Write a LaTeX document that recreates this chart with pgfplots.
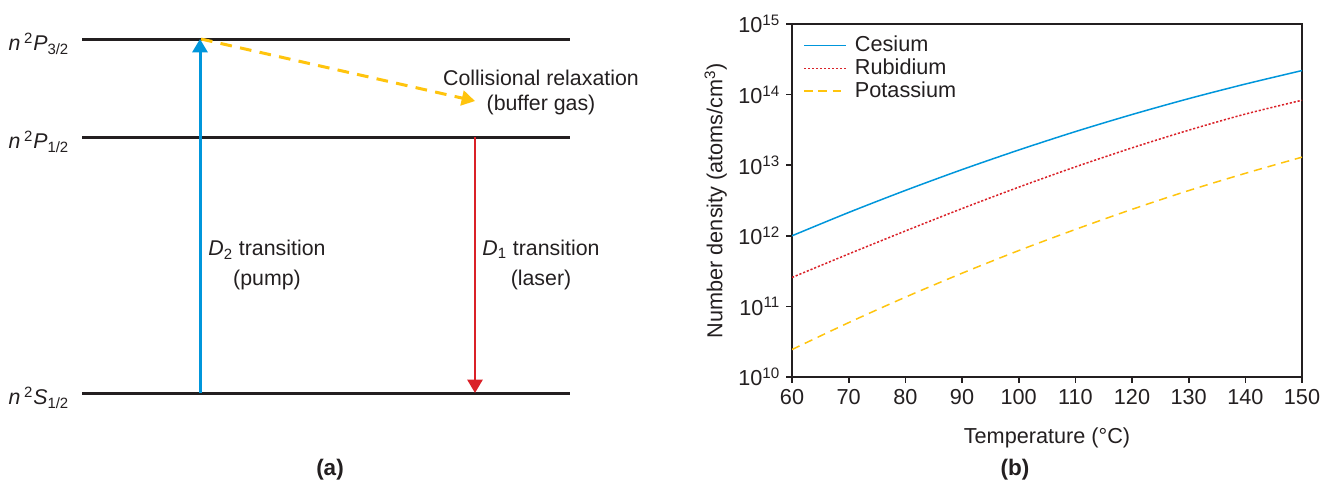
\documentclass[border=0pt]{standalone}
\usepackage{fontspec}
\setmainfont{Liberation Sans}
\usepackage{pgfplots}
\pgfplotsset{compat=1.18}
\usetikzlibrary{arrows.meta}
\definecolor{cblue}{RGB}{0,150,219}
\definecolor{cred}{RGB}{218,33,40}
\definecolor{cyel}{RGB}{255,196,13}
\definecolor{ink}{RGB}{35,31,32}
\begin{document}
\begin{tikzpicture}[font=\fontsize{12.8}{15}\selectfont, text=ink]
\useasboundingbox (0,0) rectangle (802.2pt,292.8pt);
\begin{axis}[name=canvas, at={(0,0)}, anchor=south west, scale only axis,
  width=802.2pt, height=292.8pt, xmin=0, xmax=1337, ymin=0, ymax=488,
  y dir=reverse, hide axis, clip=false]
\addplot[ink, line width=1.8pt] coordinates {(82,39) (570,39)};
\addplot[ink, line width=1.8pt] coordinates {(82,137) (570,137)};
\addplot[ink, line width=1.8pt] coordinates {(82,393) (570,393)};
\addplot[cblue, line width=1.8pt, -{Triangle[width=9pt,length=8pt]}] coordinates {(200,393) (200,39)};
\addplot[cred, line width=1.5pt, -{Triangle[width=9pt,length=8pt]}] coordinates {(475,137) (475,393)};
\addplot[cyel, line width=1.8pt, dash pattern=on 7pt off 5pt, -{Triangle[width=9pt,length=8pt]}] coordinates {(201,39) (475,101)};
\node[anchor=east] at (axis cs:75,44) {\textit{n}\,\textsuperscript{2}\textit{P}\textsubscript{3/2}};
\node[anchor=east] at (axis cs:75,142) {\textit{n}\,\textsuperscript{2}\textit{P}\textsubscript{1/2}};
\node[anchor=east] at (axis cs:75,398) {\textit{n}\,\textsuperscript{2}\textit{S}\textsubscript{1/2}};
\node[align=center, font=\fontsize{12.8}{15}\selectfont] at (axis cs:541,92) {Collisional relaxation\\(buffer gas)};
\node[align=center, font=\fontsize{12.8}{18}\selectfont] at (axis cs:267,265) {\textit{D}\textsubscript{2} transition\\(pump)};
\node[align=center, font=\fontsize{12.8}{18}\selectfont] at (axis cs:541,265) {\textit{D}\textsubscript{1} transition\\(laser)};
\node[font=\fontsize{13.5}{16}\bfseries] at (axis cs:330,470) {(a)};
\node[font=\fontsize{13.5}{16}\bfseries] at (axis cs:1015,470) {(b)};
\coordinate (bsw) at (axis cs:792,377);
\end{axis}
\begin{axis}[at={(bsw)}, anchor=south west, scale only axis,
  width=306pt, height=211.8pt,
  xmin=60, xmax=150, ymin=1e10, ymax=1e15, ymode=log,
  xtick={60,70,...,150},
  ytick={1e10,1e11,1e12,1e13,1e14,1e15},
  yticklabels={10\textsuperscript{10},10\textsuperscript{11},10\textsuperscript{12},10\textsuperscript{13},10\textsuperscript{14},10\textsuperscript{15}},
  minor y tick style={draw=none},
  tick align=outside, xtick pos=bottom, ytick pos=left,
  major tick length=3.6pt,
  axis line style={ink, line width=1pt},
  tick style={ink, line width=1pt},
  /pgf/number format/assume math mode=true,
  ticklabel style={font=\fontsize{13}{15}\selectfont, text=ink},
  xlabel={Temperature (°C)},
  ylabel={Number density (atoms/cm\textsuperscript{3})},
  xlabel style={yshift=-7pt},
  label style={font=\fontsize{13}{15}\selectfont, text=ink},
  legend style={draw=none, fill=none, at={(0.012,0.985)}, anchor=north west,
    font=\fontsize{13}{15}\selectfont, row sep=-1.2pt,
    nodes={inner xsep=5pt}},
  legend cell align=left,
  legend image code/.code={\draw[#1] (1pt,0pt) -- (26pt,0pt);},
]
\addplot[color=cblue, line width=0.9pt, smooth] coordinates {
(60,1.0e12) (70,2.14e12) (80,4.39e12) (90,8.66e12) (100,1.64e13) (110,2.99e13) (120,5.22e13) (130,8.76e13) (140,1.41e14) (150,2.19e14)};
\addlegendentry{Cesium}
\addplot[color=cred, line width=0.9pt, dash pattern=on 1.3pt off 1.1pt, smooth] coordinates {
(60,2.57e11) (70,5.53e11) (80,1.17e12) (90,2.43e12) (100,4.88e12) (110,9.46e12) (120,1.76e13) (130,3.13e13) (140,5.30e13) (150,8.32e13)};
\addlegendentry{Rubidium}
\addplot[color=cyel, line width=0.9pt, dash pattern=on 5pt off 3.5pt, smooth] coordinates {
(60,2.45e10) (70,5.89e10) (80,1.35e11) (90,2.95e11) (100,6.17e11) (110,1.23e12) (120,2.37e12) (130,4.37e12) (140,7.67e12) (150,1.30e13)};
\addlegendentry{Potassium}
\end{axis}
\end{tikzpicture}
\end{document}
